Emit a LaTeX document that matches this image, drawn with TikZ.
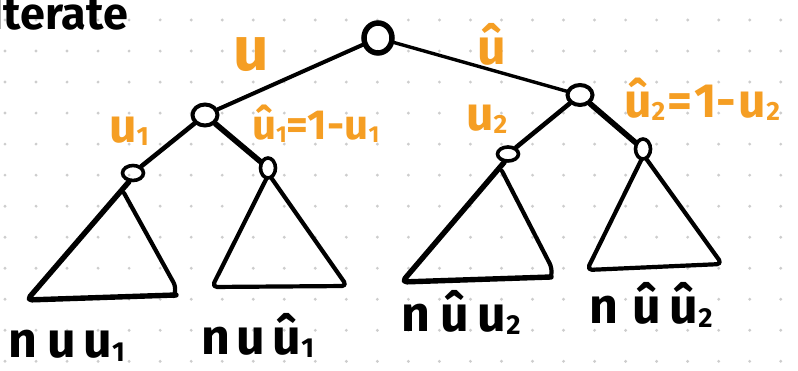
\documentclass[tikz,border=0pt]{standalone}
\usepackage{fontspec}
\usepackage{graphicx}
\setmainfont{Fira Sans}
\usetikzlibrary{shapes.geometric}
\definecolor{hl}{RGB}{245,158,35}
\definecolor{dotgrey}{RGB}{205,205,205}
\newcommand\lo[1]{\raisebox{-0.06em}{\scalebox{0.55}{#1}}}
\begin{document}
\begin{tikzpicture}[x=1pt,y=-1pt,
  knot/.style={ellipse,draw,inner sep=0pt,line width=4pt},
  edge/.style={line width=4.2pt,line cap=round},
  tri/.style={line width=4.2pt,line cap=round,line join=round,rounded corners=5pt},
  lab/.style={text=hl,font=\bfseries\fontsize{44}{44}\selectfont,inner sep=0pt,anchor=base west},
  res/.style={text=black,font=\bfseries\fontsize{50}{50}\selectfont,inner sep=0pt,anchor=base west}]
\useasboundingbox (0,0) rectangle (798,371);
\fill[white] (0,0) rectangle (798,371);
\foreach \i in {0,...,25}{\foreach \j in {0,...,11}{\fill[dotgrey] (5+31.03*\i,20+31.03*\j) circle (1.6);}}

% title (cut at the left edge)
\node[font=\bfseries\fontsize{45}{45}\selectfont,inner sep=0pt,anchor=base east] (title) at (128,30) {Iterate};

% tree nodes
\node[knot,minimum width=28,minimum height=30,line width=5.5pt] (root) at (378,38) {};
\node[knot,minimum width=25,minimum height=21] (L) at (205,115) {};
\node[knot,minimum width=25,minimum height=20] (R) at (580,95) {};
\node[knot,minimum width=21,minimum height=15,line width=3.6pt] (LL) at (133,173) {};
\node[knot,minimum width=15,minimum height=20,line width=3.6pt] (LR) at (268,168) {};
\node[knot,minimum width=21,minimum height=14,line width=3.6pt] (RL) at (508,154) {};
\node[knot,minimum width=15,minimum height=20,line width=3.6pt] (RR) at (643,149) {};

% connectors
\draw[edge,line width=4pt] (root) -- (L);
\draw[edge,line width=3.4pt] (root) -- (R);
\draw[edge,line width=4.6pt] (L) -- (LL);
\draw[edge,line width=5.6pt] (L) -- (LR);
\draw[edge,line width=4.6pt] (R) -- (RL);
\draw[edge,line width=5.6pt] (R) -- (RR);

% subtrees
\draw[tri,line width=5.4pt] (LL.-115) -- (27,300) -- (176,295);
\draw[tri] (124,193) -- (176,287) -- (174,296);
\draw[tri] (LR.-100) -- (212,287) -- (347,286) -- (LR.-70);
\draw[tri,line width=5.4pt] (RL.-115) -- (402,282) -- (551,277);
\draw[tri] (502,171) -- (552,268) -- (551,277);
\draw[tri] (RR.-100) -- (587,270) -- (722,264) -- (RR.-70);

% edge labels
\node[lab,font=\bfseries\fontsize{62}{62}\selectfont] (lu) at (233,71) {u};
\node[lab,font=\bfseries\fontsize{50}{50}\selectfont] (luh) at (477,65) {û};
\node[lab,font=\bfseries\fontsize{48}{48}\selectfont] (lu1) at (109,143) {u\lo{1}};
\node[lab,font=\bfseries\fontsize{42}{42}\selectfont] (lu1h) at (252,140) {û\lo{1}=1-u\lo{1}};
\node[lab,font=\bfseries\fontsize{48}{48}\selectfont] (lu2) at (466,131) {u\lo{2}};
\node[lab,font=\bfseries\fontsize{48}{48}\selectfont] (lu2h) at (624,118) {û\lo{2}\kern2pt=\kern2pt1-\kern2pt u\kern1pt\lo{2}};

% leaf results
\node[res] (r1) at (8,358) {n\kern10pt u\kern8pt u\lo{1}};
\node[res] (r2) at (201,355) {n\kern6pt u\kern8pt û\lo{1}};
\node[res] (r3) at (401,331) {n\kern10pt û\kern9pt u\lo{2}};
\node[res] (r4) at (589,324) {n\kern14pt û\kern9pt û\lo{2}};
\end{tikzpicture}
\end{document}
